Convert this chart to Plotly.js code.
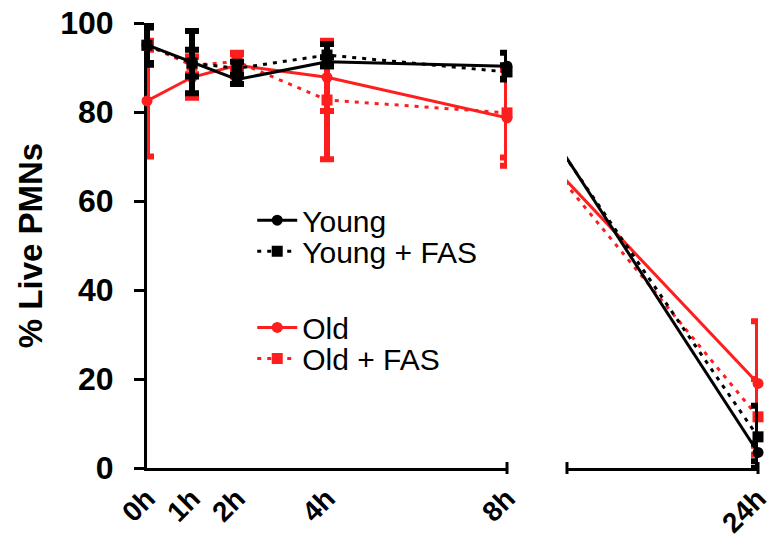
<!DOCTYPE html>
<html><head><meta charset="utf-8">
<script src="https://cdn.plot.ly/plotly-3.0.1.min.js"></script>
<style>html,body{margin:0;padding:0;background:#fff}#chart{width:772px;height:542px}</style>
</head><body><div id="chart"></div>
<script>
// Time points (hours) and their tick labels
const hours = [0, 1, 2, 4, 8, 24];
const tickLabels = ['0h', '1h', '2h', '4h', '8h', '24h'];

// % live PMNs (mean) and error (SD) per series
const young       = [95.1, 91.2, 87.3, 91.3, 90.3, 3.5];
const youngErr    = [4.5, 7.0, 1.0, 1.0, 3.0, 2.0];
const youngFas    = [95.0, 91.0, 89.8, 92.8, 89.0, 7.0];
const youngFasErr = [4.0, 3.0, 1.5, 2.5, 1.5, 7.0];
const old         = [82.5, 87.8, 90.5, 87.8, 78.7, 19.0];
const oldErr      = [12.5, 4.6, 2.5, 7.6, 10.8, 14.0];
const oldFas      = [95.0, 90.5, 91.3, 82.7, 79.8, 11.5];
const oldFasErr   = [1.0, 2.0, 2.0, 13.3, 10.0, 8.5];

const BLACK = '#000000', RED = '#FF1E1E';
const FONT = '"Liberation Sans", Arial, sans-serif';
const DOTS = '4px,6px';

function seriesTraces(name, y, err, color, dash, symbol, legendId) {
  const mk = (xs, ys, es, xa, showleg) => ({
    type: 'scatter', mode: 'lines+markers', name: name,
    legend: legendId, showlegend: showleg,
    cliponaxis: false, xaxis: xa, yaxis: 'y',
    x: xs, y: ys,
    line: {color: color, width: 3, dash: dash},
    marker: {color: color, size: 11, symbol: symbol},
    error_y: {type: 'data', array: es, visible: true, color: color, thickness: 6, width: 7}
  });
  return [
    mk(hours.slice(0, 5), y.slice(0, 5), err.slice(0, 5), 'x', true),
    mk(hours.slice(4), y.slice(4), err.slice(4), 'x2', false)
  ];
}

const data = [].concat(
  seriesTraces('Old + FAS', oldFas, oldFasErr, RED, DOTS, 'square', 'legend4'),
  seriesTraces('Old', old, oldErr, RED, 'solid', 'circle', 'legend3'),
  seriesTraces('Young + FAS', youngFas, youngFasErr, BLACK, DOTS, 'square', 'legend2'),
  seriesTraces('Young', young, youngErr, BLACK, 'solid', 'circle', 'legend')
);

const xCommon = {
  showline: true, linewidth: 3, linecolor: BLACK, ticks: '', showgrid: false, zeroline: false,
  tickangle: -45, tickfont: {family: FONT, size: 28, weight: 'bold', color: BLACK},
  ticklabeloverflow: 'allow', anchor: 'y', tickmode: 'array', layer: 'below traces'
};

const endTick = (ref, x) => ({type: 'line', xref: ref, yref: 'paper', x0: x, x1: x, layer: 'below',
  y0: -0.0135, y1: 0.0135, line: {color: BLACK, width: 3}});

const legendAt = (yc) => ({
  x: 0.170, xanchor: 'left', y: yc, yanchor: 'middle',
  font: {family: FONT, size: 30, color: BLACK},
  itemwidth: 40, bgcolor: 'rgba(0,0,0,0)', borderwidth: 0
});

const layout = {
  width: 772, height: 542,
  margin: {l: 147, r: 6, t: 23, b: 74},
  paper_bgcolor: '#ffffff', plot_bgcolor: '#ffffff',
  font: {family: FONT, color: BLACK},
  showlegend: true,
  legend: legendAt(0.5570),
  legend2: legendAt(0.4870),
  legend3: legendAt(0.3160),
  legend4: legendAt(0.2460),
  xaxis: Object.assign({}, xCommon, {
    domain: [0, 0.5816], range: [0, 8],
    tickvals: hours.slice(0, 5), ticktext: tickLabels.slice(0, 5)
  }),
  xaxis2: Object.assign({}, xCommon, {
    domain: [0.6785, 0.9871], range: [11.824, 24],
    tickvals: hours.slice(5), ticktext: tickLabels.slice(5)
  }),
  yaxis: {
    range: [0, 100], tickmode: 'array', tickvals: [0, 20, 40, 60, 80, 100],
    ticks: 'outside', ticklen: 10, tickwidth: 3, tickcolor: BLACK,
    showline: true, linewidth: 3, linecolor: BLACK, showgrid: false, zeroline: false,
    tickfont: {family: FONT, size: 32, weight: 'bold', color: BLACK},
    ticklabelstandoff: 14, anchor: 'x', layer: 'below traces',
    title: {text: '% Live PMNs', font: {family: FONT, size: 33, weight: 'bold', color: BLACK}, standoff: 8}
  },
  shapes: [endTick('x domain', 1), endTick('x2 domain', 0), endTick('x2 domain', 1)]
};

Plotly.newPlot('chart', data, layout, {displayModeBar: false, staticPlot: true});
</script>
</body></html>
